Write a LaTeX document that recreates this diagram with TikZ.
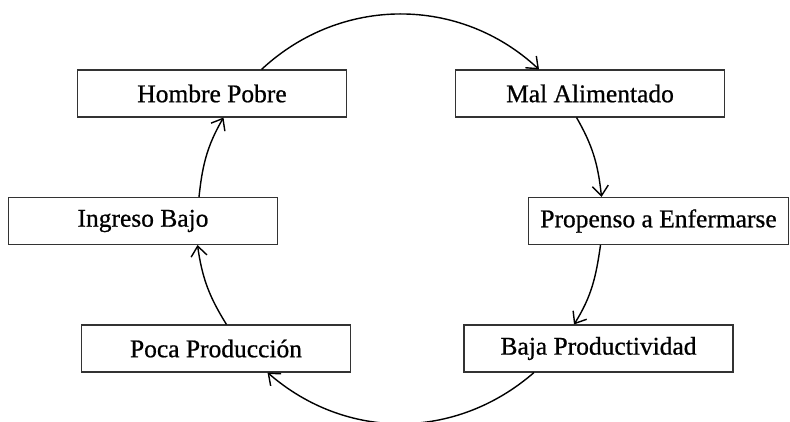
\documentclass[tikz,border=0pt]{standalone}
\usepackage{fontspec}
\setmainfont{Liberation Serif}
\newfontfamily\cajafont{Liberation Serif}[FakeBold=0.7]
\usetikzlibrary{arrows.meta}

\begin{document}
\begin{tikzpicture}[
        caja/.style={draw=black!80, line width=0.6pt, minimum width=5.38cm,
            minimum height=0.94cm, inner sep=0pt,
            font=\fontsize{14.5}{17}\cajafont},
        ciclo/.style={line width=0.8pt, -{Straight Barb[length=2mm,width=3.2mm]}}
    ]
    \useasboundingbox (0,0) rectangle (15.8,8.44);

    % las seis cajas del circulo
    \node[caja] (hombre) at (4.24,6.57) {Hombre Pobre};
    \node[caja] (mal) at (11.80,6.57) {Mal Alimentado};
    \node[caja, minimum width=5.21cm] (propenso) at (13.17,4.02) {Propenso a Enfermarse};
    \node[caja] (baja) at (11.97,1.47) {Baja Productividad};
    \node[caja] (poca) at (4.32,1.47) {Poca Producción};
    \node[caja] (ingreso) at (2.86,4.02) {Ingreso Bajo};

    % flechas en sentido horario
    \draw[ciclo] ([xshift=0.99cm]hombre.north) to[out=43,in=137] ([xshift=-1.02cm]mal.north);
    \draw[ciclo] ([xshift=-0.27cm]mal.south) to[out=-60,in=96] ([xshift=-1.14cm]propenso.north);
    \draw[ciclo] ([xshift=-1.16cm]propenso.south) to[out=-98,in=58] ([xshift=-0.49cm]baja.north);
    \draw[ciclo] ([xshift=-1.29cm]baja.south) to[out=-139,in=-41] ([xshift=1.03cm]poca.south);
    \draw[ciclo] ([xshift=0.21cm]poca.north) to[out=122,in=-82] ([xshift=1.09cm]ingreso.south);
    \draw[ciclo] ([xshift=1.12cm]ingreso.north) to[out=84,in=-120] ([xshift=0.23cm]hombre.south);
\end{tikzpicture}
\end{document}
